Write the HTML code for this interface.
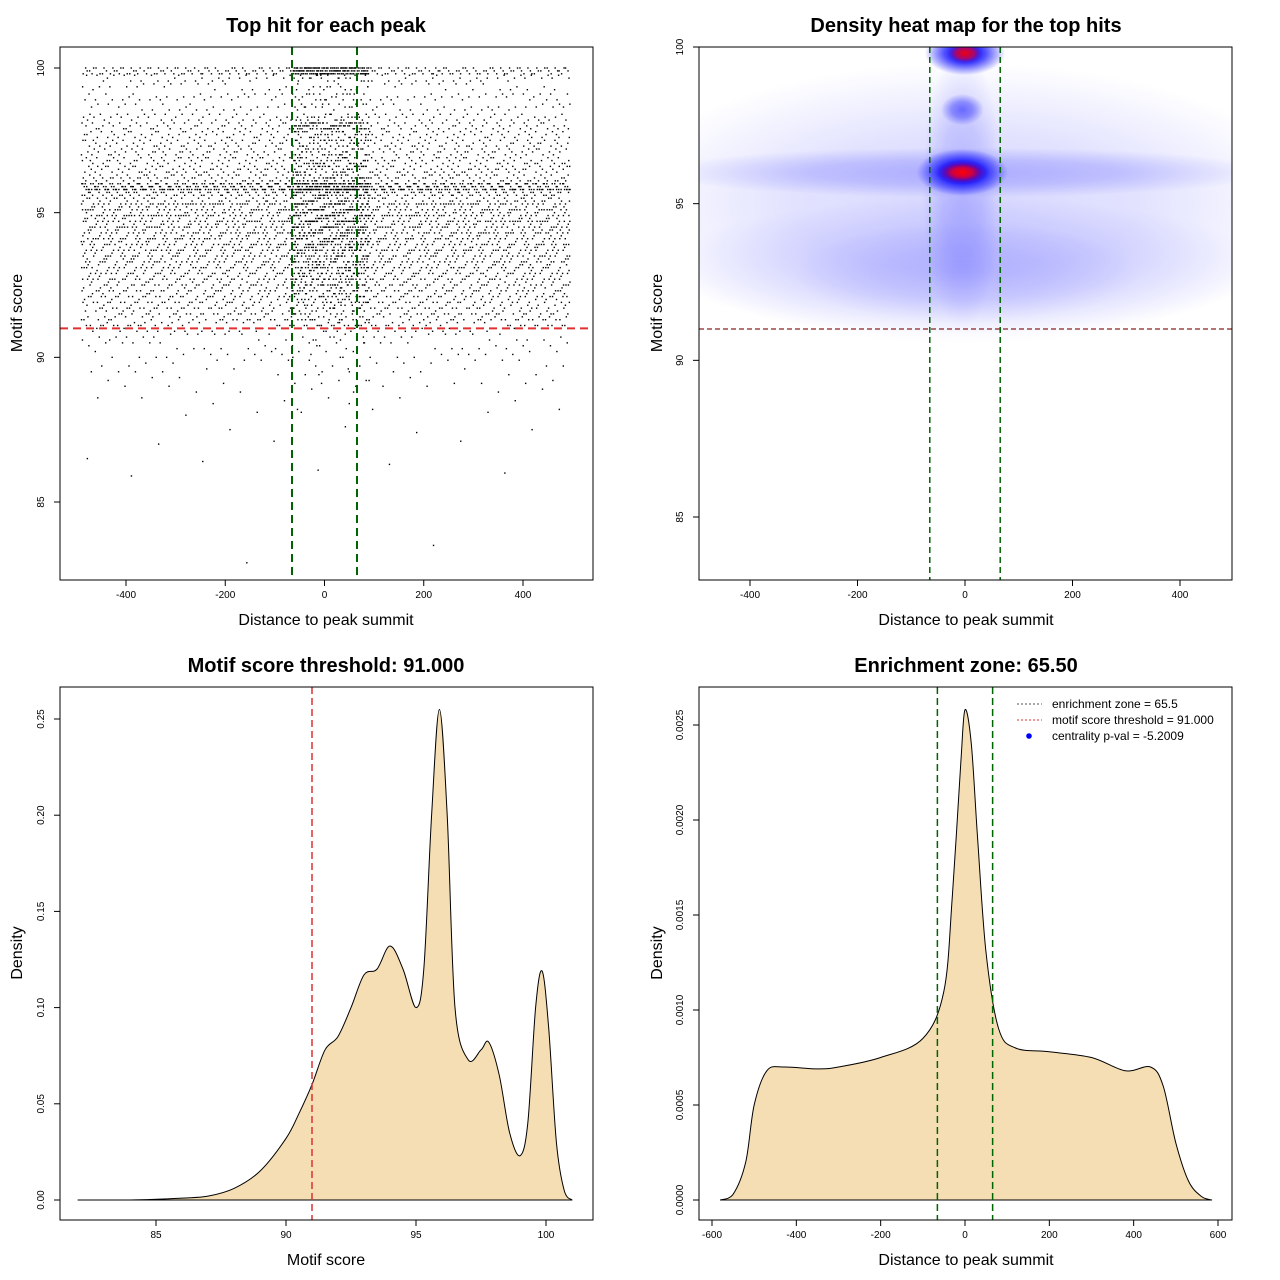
<!DOCTYPE html>
<html><head><meta charset="utf-8"><style>
html,body{margin:0;padding:0;background:#fff;}
svg{display:block;font-family:"Liberation Sans",Arial,sans-serif;}
</style></head><body>
<svg id="s" width="1280" height="1280" viewBox="0 0 1280 1280" xmlns="http://www.w3.org/2000/svg">
<defs>
<clipPath id="c2"><rect x="699" y="47" width="533" height="533"/></clipPath>
</defs>
</svg>
<script>
// ---- data ----
const scoreRows   = [100,99.75,99.45,99.1,98.75,98.4,98.1,97.8,97.5,97.2,96.9,96.6,96.3,96.0,95.8,95.5,95.3,95.1,94.9,94.7,94.5,94.3,94.1,93.9,93.7,93.5,93.3,93.1,92.9,92.7,92.5,92.3,92.1,91.9,91.7,91.5,91.3,91.1,90.8,90.5,90.2,89.9,89.6,89.3,89.0,88.6,88.2,87.6,87.2,86.5,86.1,83.7,83.0];
const rowCounts   = [200,70,45,70,60,90,110,110,120,120,130,140,150,400,220,150,140,150,140,140,140,130,130,130,120,120,120,110,110,100,100,100,90,90,80,80,70,70,35,30,25,20,15,12,10,7,6,4,3,3,3,1,1];
const centerCounts= [140,12,8,12,8,14,60,20,20,20,25,25,30,90,40,30,30,30,28,28,28,24,24,24,20,20,20,18,18,16,14,14,12,10,10,8,6,6,4,3,3,2,2,2,1,1,1,0,0,0,0,0,0];

const dens1X = [82,84,86,87,88,89,90,90.5,91,91.5,92,92.5,93,93.5,94,94.5,95,95.3,95.6,95.9,96.2,96.5,97,97.5,97.8,98.2,98.6,99,99.3,99.6,99.85,100.1,100.4,100.7,101];
const dens1Y = [0,0,0.001,0.002,0.006,0.015,0.032,0.045,0.06,0.078,0.085,0.1,0.117,0.12,0.132,0.12,0.1,0.12,0.2,0.255,0.2,0.1,0.073,0.078,0.082,0.065,0.035,0.023,0.04,0.1,0.119,0.09,0.03,0.005,0];

const dens2X = [-580,-550,-520,-500,-470,-430,-350,-300,-200,-100,-50,-30,-10,0,15,30,50,80,120,200,300,380,440,470,500,530,560,585];
const dens2Y = [0,0.00003,0.0002,0.0005,0.00068,0.0007,0.00069,0.0007,0.00075,0.00085,0.0011,0.0016,0.0023,0.00258,0.0024,0.0019,0.0013,0.0009,0.0008,0.00078,0.00075,0.00068,0.0007,0.0006,0.0003,0.0001,0.00002,0];

// heatmap blobs: distance, score, radius in distance, radius in score, intensity
const blobX  = [0,0,0,-5,0,-5,-5,0,-5,0,-5];
const blobY  = [95.0,96,93,95.5,92.8,98,96,99.8,96,99.8,96];
const blobRX = [650,580,560,75,320,40,85,75,50,35,38];
const blobRY = [4.5,0.8,2.2,4.5,1.6,0.5,0.75,0.7,0.4,0.35,0.3];
const blobOp = [0.16,0.22,0.14,0.18,0.1,0.5,1,1,1,0.95,0.95];
const blobRed= [0,0,0,0,0,0,0,0,1,1,1];

const x1Ticks=[-400,-200,0,200,400], y1Ticks=[85,90,95,100];
const x3Ticks=[85,90,95,100], y3Ticks=[0,0.05,0.10,0.15,0.20,0.25], y3Lab=["0.00","0.05","0.10","0.15","0.20","0.25"];
const x4Ticks=[-600,-400,-200,0,200,400,600], y4Ticks=[0,0.0005,0.001,0.0015,0.002,0.0025], y4Lab=["0.0000","0.0005","0.0010","0.0015","0.0020","0.0025"];
const zone=65.5, thr=91;

// ---- helpers ----
const S=document.getElementById('s'), NS='http://www.w3.org/2000/svg';
function mk(tag,attrs,parent){const e=document.createElementNS(NS,tag);for(const k in attrs)e.setAttribute(k,attrs[k]);(parent||S).appendChild(e);return e;}
function txt(x,y,t,size,extra,parent){const e=mk('text',Object.assign({x:x,y:y,'font-size':size,'text-anchor':'middle',fill:'#000'},extra||{}),parent);e.textContent=t;return e;}
function lin(d0,d1,p0,p1){return v=>p0+(v-d0)*(p1-p0)/(d1-d0);}
function smooth(P){let d='M'+P[0][0]+','+P[0][1];for(let i=0;i<P.length-1;i++){const p0=P[Math.max(0,i-1)],p1=P[i],p2=P[i+1],p3=P[Math.min(P.length-1,i+2)];
  const c1x=p1[0]+(p2[0]-p0[0])/6,c1y=p1[1]+(p2[1]-p0[1])/6,c2x=p2[0]-(p3[0]-p1[0])/6,c2y=p2[1]-(p3[1]-p1[1])/6;
  d+=' C'+c1x+','+Math.min(c1y,1200)+' '+c2x+','+Math.min(c2y,1200)+' '+p2[0]+','+p2[1];}return d;}

// scales
const X1=lin(-400,400,126,523), Y1=lin(100,85,68,502);
const X2=lin(-400,400,750,1180), Y2=lin(100,85,47,517);
const X3=lin(85,100,156,546), Y3=lin(0,0.25,1200,719);
const X4=lin(-600,600,712,1218), Y4=lin(0,0.0025,1200,725);

function frame(x,y,name){const r=mk('rect',{x:x,y:y,width:533,height:533,fill:'none',stroke:'#000','stroke-width':1});}
function axes(g,X,Y,xt,xl,yt,yl,by,lx,name){
  const ax=mk('g',{},g);
  mk('line',{x1:X(xt[0]),x2:X(xt[xt.length-1]),y1:by,y2:by,stroke:'#000'},ax);
  xt.forEach((v,i)=>{mk('line',{x1:X(v),x2:X(v),y1:by,y2:by+6,stroke:'#000'},ax);txt(X(v),by+18,xl[i],10,{},ax);});
  const ay=mk('g',{},g);
  mk('line',{x1:lx,x2:lx,y1:Y(yt[0]),y2:Y(yt[yt.length-1]),stroke:'#000'},ay);
  yt.forEach((v,i)=>{mk('line',{x1:lx,x2:lx-6,y1:Y(v),y2:Y(v),stroke:'#000'},ay);txt(lx-16,Y(v),yl[i],10,{transform:'rotate(-90 '+(lx-16)+' '+Y(v)+')'},ay);});
}
function labels(cx,cy,title,xlab,ylab,lx,name){
  let t=txt(cx,cy-548,title,20,{'font-weight':'bold'});
  t=txt(cx,cy+45,xlab,16);
  t=txt(lx,cy-267,ylab,16,{transform:'rotate(-90 '+lx+' '+(cy-267)+')'});
}
function vdash(x,y1,y2,col,w,da,parent,name){const l=mk('line',{x1:x,x2:x,y1:y1,y2:y2,stroke:col,'stroke-width':w,'stroke-dasharray':da},parent);}
function hdash(y,x1,x2,col,w,da,parent,name){const l=mk('line',{x1:x1,x2:x2,y1:y,y2:y,stroke:col,'stroke-width':w,'stroke-dasharray':da},parent);}

// ---- panel 1: scatter ----
const g1=mk('g',{});
const pts=mk('g',{fill:'#000'},g1);
let seq=0.1234, sq2=0.377;
scoreRows.forEach((sc,i)=>{
  for(let k=0;k<rowCounts[i];k++){seq=(seq+0.6180339887)%1;sq2=(sq2+0.7548776662)%1;const d=-490+seq*985;
    const yj=Math.floor(sq2*3)*0.1;const p=mk('rect',{x:X1(d)-0.7,y:Y1(sc-yj)-0.7,width:1.4,height:1.4},pts);}
  for(let k=0;k<centerCounts[i];k++){seq=(seq+0.6180339887)%1;sq2=(sq2+0.7548776662)%1;const d=-65+seq*155;
    const yj=Math.floor(sq2*3)*0.1;const p=mk('rect',{x:X1(d)-0.7,y:Y1(sc-yj)-0.7,width:1.4,height:1.4},pts);}
});
vdash(X1(-zone),47,580,'#006400',2,'8,5',g1,'enrichment-left-line');
vdash(X1(zone),47,580,'#006400',2,'8,5',g1,'enrichment-right-line');
hdash(Y1(thr),60,592,'#e03030',2,'8,5',g1,'threshold-line');
frame(60,47,'scatter-frame');
axes(g1,X1,Y1,x1Ticks,x1Ticks.map(String),y1Ticks,y1Ticks.map(String),580,60,'scatter');
labels(326,580,'Top hit for each peak','Distance to peak summit','Motif score',22,'scatter');

// ---- panel 2: heatmap ----
const g2=mk('g',{});
const defs=S.querySelector('defs');
const hm=mk('g',{'clip-path':'url(#c2)'},g2);
blobX.forEach((bx,i)=>{
  const id='bg'+i;const gr=mk('radialGradient',{id:id},defs);
  const col='#0000ff';
  if(blobRed[i]){mk('stop',{offset:'0','stop-color':'#ff0000','stop-opacity':blobOp[i]},gr);mk('stop',{offset:'0.5','stop-color':'#d00040','stop-opacity':blobOp[i]*0.8},gr);mk('stop',{offset:'1','stop-color':'#0000ff','stop-opacity':0},gr);}
  else{mk('stop',{offset:'0','stop-color':col,'stop-opacity':blobOp[i]},gr);mk('stop',{offset:'0.5','stop-color':col,'stop-opacity':blobOp[i]*0.7},gr);mk('stop',{offset:'1','stop-color':col,'stop-opacity':0},gr);}
  const e=mk('ellipse',{cx:X2(bx),cy:Y2(blobY[i]),rx:Math.abs(X2(blobRX[i])-X2(0)),ry:Math.abs(Y2(blobRY[i])-Y2(0)),fill:'url(#'+id+')'},hm);
  
});
vdash(X2(-zone),47,580,'#006400',1.5,'6,4',g2,'heat-enrichment-left');
vdash(X2(zone),47,580,'#006400',1.5,'6,4',g2,'heat-enrichment-right');
hdash(Y2(thr),699,1232,'#8b2020',1.2,'5,3',g2,'heat-threshold-line');
frame(699,47,'heatmap-frame');
axes(g2,X2,Y2,[-400,-200,0,200,400],['-400','-200','0','200','400'],y1Ticks,y1Ticks.map(String),580,699,'heatmap');
labels(966,580,'Density heat map for the top hits','Distance to peak summit','Motif score',662,'heatmap');

// ---- panel 3: score density ----
const g3=mk('g',{});
let P=dens1X.map((v,i)=>[X3(v),Y3(dens1Y[i])]);
let d=smooth(P)+' Z';
let p=mk('path',{d:d,fill:'#f5deb3',stroke:'#000','stroke-width':1,'stroke-linejoin':'round'},g3);
vdash(X3(thr),687,1220,'#e03030',1.5,'7,4',g3,'score-threshold-line');
frame(60,687,'score-density-frame');
axes(g3,X3,Y3,x3Ticks,x3Ticks.map(String),y3Ticks,y3Lab,1220,60,'score-density');
labels(326,1220,'Motif score threshold: 91.000','Motif score','Density',22,'score-density');

// ---- panel 4: distance density ----
const g4=mk('g',{});
P=dens2X.map((v,i)=>[X4(v),Y4(dens2Y[i])]);
d=smooth(P)+' Z';
p=mk('path',{d:d,fill:'#f5deb3',stroke:'#000','stroke-width':1,'stroke-linejoin':'round'},g4);
vdash(X4(-zone),687,1220,'#006400',1.5,'7,4',g4,'zone-left-line');
vdash(X4(zone),687,1220,'#006400',1.5,'7,4',g4,'zone-right-line');
frame(699,687,'distance-density-frame');
axes(g4,X4,Y4,x4Ticks,x4Ticks.map(String),y4Ticks,y4Lab,1220,699,'distance-density');
labels(966,1220,'Enrichment zone: 65.50','Distance to peak summit','Density',662,'distance-density');
const lg=mk('g',{},g4);
const le=[['enrichment zone = 65.5','line','#555'],['motif score threshold = 91.000','line','#e03030'],['centrality p-val = -5.2009','dot','#0000ff']];
le.forEach((e,i)=>{const y=704+i*16;const gi=mk('g',{},lg);
  if(e[1]=='line')mk('line',{x1:1017,x2:1042,y1:y,y2:y,stroke:e[2],'stroke-dasharray':'2,2'},gi);else mk('circle',{cx:1029,cy:y,r:2.8,fill:e[2]},gi);
  txt(1052,y+4,e[0],12,{'text-anchor':'start'},gi);});
</script>
</body></html>
